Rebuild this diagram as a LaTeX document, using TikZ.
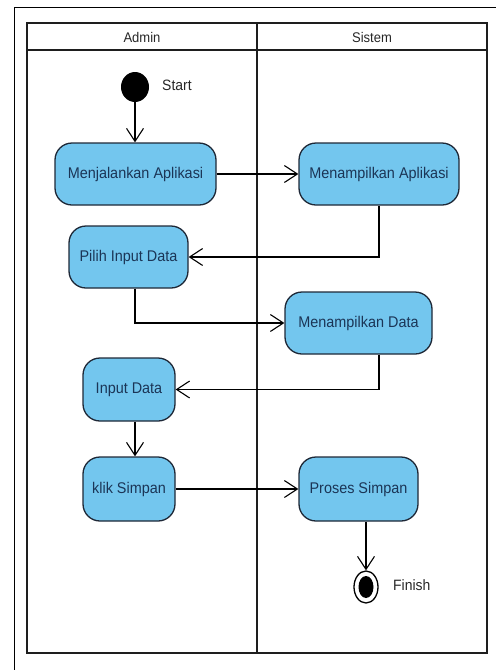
\documentclass[tikz,border=0pt]{standalone}
\usepackage{fontspec}
\setmainfont[FakeStretch=0.93]{Liberation Sans}
\usetikzlibrary{arrows.meta,shapes.geometric,calc}
\definecolor{actfill}{RGB}{115,198,238}
\definecolor{actline}{RGB}{30,40,55}
\definecolor{acttext}{RGB}{27,53,86}
\definecolor{lanecol}{RGB}{30,30,30}
\tikzset{
  act/.style={draw=actline, line width=1.3pt, fill=actfill, rounded corners=17pt,
    text=acttext, font=\fontsize{15.5}{17}\selectfont, inner sep=0pt, anchor=center},
  flow/.style={draw=black, line width=1.1pt, -{Straight Barb[length=13pt,width=17pt,line width=1.1pt]}},
  lane/.style={draw=lanecol, line width=2.5pt},
  lbl/.style={font=\fontsize{15}{17}\selectfont, text=black!85, anchor=west, inner sep=0pt},
  hdr/.style={font=\fontsize{14}{16}\selectfont, text=black!85, inner sep=0pt}
}
\begin{document}
\begin{tikzpicture}[x=1pt,y=-1pt]
\useasboundingbox (0,0) rectangle (496,670);
% outer frame
\draw[line width=1pt] (14,670) -- (14,7) -- (496,7);
% swimlanes
\draw[lane] (27,23) rectangle (487,653);
\draw[lane] (27,50) -- (487,50);
\draw[lane] (257,23) -- (257,653);
\node[hdr] (hadmin) at (142,37) {Admin};
\node[hdr] (hsistem) at (372,37) {Sistem};
% start
\node[ellipse, fill=black, minimum width=28pt, minimum height=30pt, inner sep=0pt] (start) at (135,87) {};
\node[lbl] (startlbl) at (162,85) {Start};
% activities
\node[act, minimum width=161pt, minimum height=62pt] (m1) at (135.5,174) {Menjalankan Aplikasi};
\node[act, minimum width=160pt, minimum height=62pt] (m2) at (379,174) {Menampilkan Aplikasi};
\node[act, minimum width=119pt, minimum height=62pt] (pilih) at (128.5,257) {Pilih Input Data};
\node[act, minimum width=147pt, minimum height=62pt] (md) at (358.5,323) {Menampilkan Data};
\node[act, minimum width=92pt, minimum height=63pt] (input) at (129,389.5) {Input Data};
\node[act, minimum width=92pt, minimum height=64pt] (klik) at (129,489) {klik Simpan};
\node[act, minimum width=119pt, minimum height=64pt] (proses) at (358.5,489) {Proses Simpan};
% finish
\node[ellipse, draw=black, line width=1.3pt, fill=white, minimum width=24pt, minimum height=32pt, inner sep=0pt] (finish) at (366,587) {};
\node[ellipse, fill=black, minimum width=15pt, minimum height=22pt, inner sep=0pt] (finishdot) at (366,587) {};
\node[lbl] (finishlbl) at (393,585) {Finish};
% connectors
\draw[flow] (start.south) -- (start |- m1.north);
\draw[flow] (m1.east) -- (m2.west |- m1.east);
\draw[flow] (m2.south) |- (pilih.east);
\draw[flow] (pilih.south -| start) |- (md.west);
\draw[flow] (md.south -| m2) |- (input.east);
\draw[flow] (input.south -| start) -- (klik.north -| start);
\draw[flow] (klik.east) -- (proses.west |- klik.east);
\draw[flow] (proses.south -| finish) -- (finish.north);
\end{tikzpicture}
\end{document}
